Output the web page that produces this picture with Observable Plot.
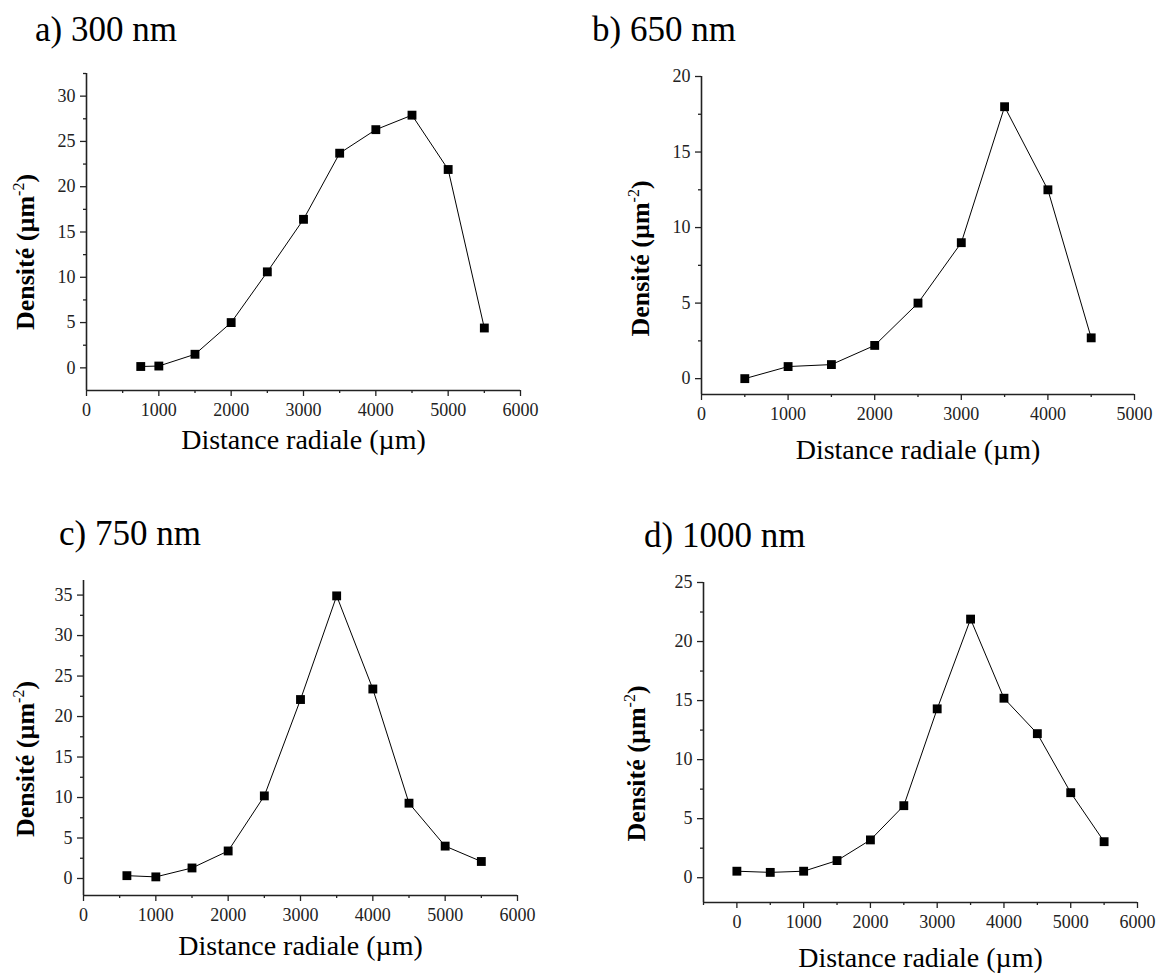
<!DOCTYPE html>
<html><head><meta charset="utf-8">
<script src="https://cdn.jsdelivr.net/npm/d3@7"></script>
<script src="https://cdn.jsdelivr.net/npm/@observablehq/plot@0.6"></script>
<style>
body{margin:0;background:#fff;}
#root{position:relative;width:1159px;height:974px;overflow:hidden;background:#fff;font-family:'Liberation Serif','Times New Roman',serif;}
.panel{position:absolute;}
.title{position:absolute;font-size:35px;line-height:1;color:#000;white-space:nowrap;}
</style></head><body><div id="root"></div>
<script>
// ---- data ----
const xA = [750, 1000, 1500, 2000, 2500, 3000, 3500, 4000, 4500, 5000, 5500];
const yA = [0.15, 0.2, 1.5, 5.0, 10.6, 16.4, 23.7, 26.3, 27.9, 21.9, 4.4];
const xB = [500, 1000, 1500, 2000, 2500, 3000, 3500, 4000, 4500];
const yB = [0.0, 0.8, 0.93, 2.2, 5.0, 9.0, 18.0, 12.5, 2.7];
const xC = [600, 1000, 1500, 2000, 2500, 3000, 3500, 4000, 4500, 5000, 5500];
const yC = [0.35, 0.2, 1.3, 3.4, 10.2, 22.1, 34.9, 23.4, 9.3, 4.0, 2.1];
const xD = [0, 500, 1000, 1500, 2000, 2500, 3000, 3500, 4000, 4500, 5000, 5500];
const yD = [0.55, 0.45, 0.55, 1.45, 3.2, 6.1, 14.3, 21.9, 15.2, 12.2, 7.2, 3.05];

const titles = ["a) 300 nm", "b) 650 nm", "c) 750 nm", "d) 1000 nm"];
const xLabel = "Distance radiale (µm)";
const yLabel = "Densité (µm-2)";

const xTicks6000 = [0, 1000, 2000, 3000, 4000, 5000, 6000];
const xTicks5000 = [0, 1000, 2000, 3000, 4000, 5000];
const xMinor6000 = [500, 1500, 2500, 3500, 4500, 5500];
const xMinor5000 = [500, 1500, 2500, 3500, 4500];
const xMinorD = [-500, 500, 1500, 2500, 3500, 4500, 5500];
const yTicksA = [0, 5, 10, 15, 20, 25, 30];
const yMinorA = [2.5, 7.5, 12.5, 17.5, 22.5, 27.5, 32.5];
const yTicksB = [0, 5, 10, 15, 20];
const yMinorB = [2.5, 7.5, 12.5, 17.5];
const yTicksC = [0, 5, 10, 15, 20, 25, 30, 35];
const yMinorC = [2.5, 7.5, 12.5, 17.5, 22.5, 27.5, 32.5];
const yTicksD = [0, 5, 10, 15, 20, 25];
const yMinorD = [2.5, 7.5, 12.5, 17.5, 22.5];

// ---- layout ----
const panels = [
  {title: titles[0], tx: 35, ty: 12, left: 0, top: 0, width: 580, height: 487, ml: 86, mr: 60, mt: 73, mb: 97,
   xd: [0, 6000], yd: [-2.5, 32.5], xs: xA, ys: yA, xt: xTicks6000, xm: xMinor6000, yt: yTicksA, ym: yMinorA,
   xlDy: 50, ylDx: -61, ylDy: 20},
  {title: titles[1], tx: 592, ty: 12, left: 580, top: 0, width: 579, height: 487, ml: 121, mr: 25, mt: 76, mb: 93,
   xd: [0, 5000], yd: [-1.05, 20], xs: xB, ys: yB, xt: xTicks5000, xm: xMinor5000, yt: yTicksB, ym: yMinorB,
   xlDy: 56, ylDx: -61, ylDy: 23},
  {title: titles[2], tx: 59, ty: 516, left: 0, top: 487, width: 580, height: 487, ml: 83, mr: 63, mt: 93, mb: 79,
   xd: [0, 6000], yd: [-2.1, 36.8], xs: xC, ys: yC, xt: xTicks6000, xm: xMinor6000, yt: yTicksC, ym: yMinorC,
   xlDy: 51, ylDx: -58, ylDy: 21},
  {title: titles[3], tx: 644, ty: 518, left: 580, top: 487, width: 579, height: 487, ml: 123, mr: 22, mt: 95, mb: 72,
   xd: [-500, 6000], yd: [-2.1, 25], xs: xD, ys: yD, xt: xTicks6000, xm: xMinorD, yt: yTicksD, ym: yMinorD,
   xlDy: 56, ylDx: -67, ylDy: 21}
];

const root = document.getElementById("root");
const fmt = d3.format("d");
const axisColor = "#222";
const tickFont = 18;

panels.forEach(p => {
  const data = p.xs.map((x, i) => ({x, y: p.ys[i]}));
  const chart = Plot.plot({
    width: p.width, height: p.height,
    marginLeft: p.ml, marginRight: p.mr, marginTop: p.mt, marginBottom: p.mb,
    style: {fontFamily: "'Liberation Serif','Times New Roman',serif", fontSize: "18px", color: axisColor, background: "transparent", overflow: "visible"},
    x: {domain: p.xd, axis: null},
    y: {domain: p.yd, axis: null},
    marks: [
      Plot.axisX({ticks: p.xt, tickSize: 6, text: null, label: null, strokeWidth: 1.3}),
      Plot.axisX({ticks: p.xm, tickSize: 3, text: null, label: null, strokeWidth: 1.3}),
      Plot.axisY({ticks: p.yt, tickSize: 6, text: null, label: null, strokeWidth: 1.3}),
      Plot.axisY({ticks: p.ym, tickSize: 3, text: null, label: null, strokeWidth: 1.3}),
      Plot.text(p.xt, {x: d => d, frameAnchor: "bottom", lineAnchor: "middle", dy: 20, text: d => fmt(d), fontSize: tickFont, fill: axisColor}),
      Plot.text(p.yt, {y: d => d, frameAnchor: "left", textAnchor: "end", lineAnchor: "middle", dx: -11, text: d => fmt(d), fontSize: tickFont, fill: axisColor}),
      Plot.ruleY([p.yd[0]], {stroke: axisColor, strokeWidth: 1.6}),
      Plot.ruleX([p.xd[0]], {stroke: axisColor, strokeWidth: 1.6}),
      Plot.line(data, {x: "x", y: "y", stroke: "#000", strokeWidth: 1}),
      Plot.dot(data, {x: "x", y: "y", symbol: "square", r: 5, fill: "#000", stroke: null}),
      Plot.text([xLabel], {frameAnchor: "bottom", lineAnchor: "middle", dy: p.xlDy, fontSize: 28, fill: "#000"}),
      Plot.text([yLabel], {frameAnchor: "left", lineAnchor: "middle", textAnchor: "middle", rotate: -90, dx: p.ylDx, dy: p.ylDy, fontSize: 26, fontWeight: "bold", fill: "#000"})
    ]
  });
  // superscript for the unit exponent
  chart.querySelectorAll("text").forEach(t => {
    if (t.textContent === yLabel) {
      t.textContent = "";
      const ns = "http://www.w3.org/2000/svg";
      const a = document.createElementNS(ns, "tspan"); a.textContent = "Densité (µm";
      const s = document.createElementNS(ns, "tspan"); s.textContent = "-2"; s.setAttribute("font-size", "16"); s.setAttribute("dy", "-10"); s.setAttribute("font-weight", "normal");
      const c = document.createElementNS(ns, "tspan"); c.textContent = ")"; c.setAttribute("dy", "10");
      t.appendChild(a); t.appendChild(s); t.appendChild(c);
    }
  });
  const wrap = document.createElement("div");
  wrap.className = "panel";
  wrap.style.left = p.left + "px"; wrap.style.top = p.top + "px";
  wrap.appendChild(chart);
  root.appendChild(wrap);
  const tt = document.createElement("div");
  tt.className = "title";
  tt.style.left = p.tx + "px"; tt.style.top = p.ty + "px";
  tt.textContent = p.title;
  root.appendChild(tt);
});
</script></body></html>
